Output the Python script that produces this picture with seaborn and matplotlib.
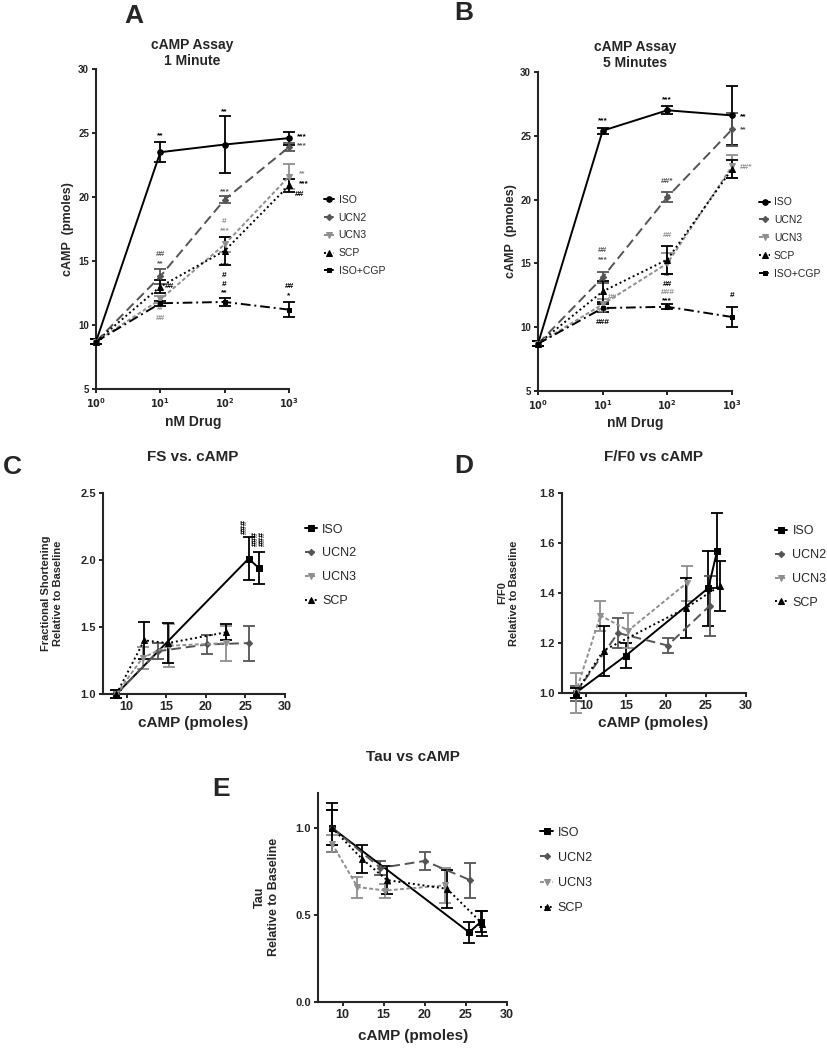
import matplotlib
matplotlib.use("Agg")
import matplotlib.pyplot as plt
from matplotlib.ticker import NullLocator
import seaborn as sns
import pandas as pd

W, H = 827, 1050

# -------------------------------
# Data: cAMP dose response (A: 1 min, B: 5 min)
# -------------------------------
dose_nm = [1, 10, 100, 1000]
dose_ticklabels = [r"$\mathbf{10^0}$", r"$\mathbf{10^1}$", r"$\mathbf{10^2}$", r"$\mathbf{10^3}$"]
series_ab = ["ISO", "UCN2", "UCN3", "SCP", "ISO+CGP"]

a_iso = [8.7, 23.5, 24.1, 24.6]
a_iso_err = [0.2, 0.8, 2.2, 0.5]
a_ucn2 = [8.7, 13.8, 19.8, 23.9]
a_ucn2_err = [0.2, 0.6, 0.3, 0.3]
a_ucn3 = [8.7, 12.0, 16.3, 21.6]
a_ucn3_err = [0.2, 0.3, 0.6, 1.0]
a_scp = [8.7, 13.0, 15.8, 20.9]
a_scp_err = [0.2, 0.5, 1.1, 0.5]
a_cgp = [8.7, 11.7, 11.8, 11.2]
a_cgp_err = [0.2, 0.2, 0.3, 0.6]

b_iso = [8.7, 25.4, 27.0, 26.6]
b_iso_err = [0.2, 0.25, 0.3, 2.3]
b_ucn2 = [8.7, 13.9, 20.2, 25.5]
b_ucn2_err = [0.2, 0.4, 0.4, 1.3]
b_ucn3 = [8.7, 11.8, 15.0, 22.6]
b_ucn3_err = [0.2, 0.4, 0.8, 0.9]
b_scp = [8.7, 12.8, 15.3, 22.4]
b_scp_err = [0.2, 0.8, 1.1, 0.7]
b_cgp = [8.7, 11.5, 11.6, 10.8]
b_cgp_err = [0.2, 0.3, 0.2, 0.8]

# significance marks (text, dose, cAMP, series)
a_marks = [("**", 10, 24.8, "ISO"), ("**", 100, 26.7, "ISO"),
           ("***", 1600, 24.7, "ISO"), ("***", 1600, 24.0, "UCN2"),
           ("***", 100, 20.4, "UCN2"), ("#", 100, 18.1, "UCN3"), ("***", 100, 17.4, "UCN3"),
           ("***", 100, 14.6, "SCP"), ("#", 100, 13.9, "SCP"), ("#", 100, 13.2, "ISO+CGP"),
           ("**", 100, 12.5, "ISO+CGP"), ("##", 10, 15.5, "UCN2"), ("**", 10, 14.8, "UCN2"),
           ("##", 13.8, 13.0, "SCP"), ("**", 10, 11.2, "UCN3"), ("##", 10, 10.5, "UCN3"),
           ("**", 1600, 21.8, "UCN3"), ("***", 1700, 21.0, "SCP"), ("##", 1450, 20.2, "SCP"),
           ("##", 1000, 13.0, "ISO+CGP"), ("*", 1000, 12.3, "ISO+CGP")]
b_marks = [("***", 10, 26.2, "ISO"), ("***", 100, 27.8, "ISO"),
           ("**", 1500, 26.5, "ISO"), ("**", 1500, 25.5, "UCN2"), ("##*", 1650, 22.5, "UCN3"),
           ("##*", 100, 21.4, "UCN2"), ("##", 100, 17.2, "UCN3"),
           ("**", 100, 14.0, "SCP"), ("##", 100, 13.35, "SCP"), ("###", 100, 12.7, "UCN3"),
           ("***", 100, 12.05, "ISO+CGP"), ("##", 10, 16.0, "UCN2"), ("***", 10, 15.3, "UCN2"),
           ("##", 14.3, 12.3, "UCN3"), ("***", 10, 11.1, "UCN3"), ("###", 10, 10.4, "SCP"),
           ("#", 1000, 12.5, "ISO+CGP")]

# -------------------------------
# Data: functional readouts vs cAMP (C, D, E)
# -------------------------------
series_cde = ["ISO", "UCN2", "UCN3", "SCP"]

c_iso_x = [8.7, 25.4, 26.7]
c_iso = [1.00, 2.01, 1.94]
c_iso_err = [0.03, 0.16, 0.12]
c_ucn2_x = [8.7, 14.0, 20.2, 25.4]
c_ucn2 = [1.00, 1.32, 1.37, 1.38]
c_ucn2_err = [0.03, 0.06, 0.07, 0.13]
c_ucn3_x = [8.7, 12.0, 15.3, 22.6]
c_ucn3 = [1.00, 1.27, 1.36, 1.38]
c_ucn3_err = [0.03, 0.08, 0.16, 0.13]
c_scp_x = [8.7, 12.2, 15.2, 22.5]
c_scp = [1.00, 1.40, 1.38, 1.46]
c_scp_err = [0.03, 0.14, 0.15, 0.06]
c_marks = [("###", 24.8, 2.25, "ISO"), ("###", 26.3, 2.16, "ISO"), ("###", 27.2, 2.16, "ISO")]

d_iso_x = [8.7, 15.0, 25.3, 26.4]
d_iso = [1.00, 1.15, 1.42, 1.57]
d_iso_err = [0.02, 0.05, 0.15, 0.15]
d_ucn2_x = [8.7, 14.0, 20.2, 25.5]
d_ucn2 = [1.00, 1.24, 1.19, 1.35]
d_ucn2_err = [0.03, 0.06, 0.03, 0.12]
d_ucn3_x = [8.7, 11.8, 15.3, 22.6]
d_ucn3 = [1.00, 1.31, 1.25, 1.44]
d_ucn3_err = [0.08, 0.06, 0.07, 0.07]
d_scp_x = [8.7, 12.2, 22.5, 26.8]
d_scp = [1.00, 1.17, 1.34, 1.43]
d_scp_err = [0.02, 0.10, 0.12, 0.10]

e_iso_x = [8.7, 25.4, 26.8]
e_iso = [1.00, 0.40, 0.46]
e_iso_err = [0.14, 0.06, 0.06]
e_ucn2_x = [8.7, 14.6, 20.0, 25.5]
e_ucn2 = [1.00, 0.77, 0.81, 0.70]
e_ucn2_err = [0.10, 0.04, 0.05, 0.10]
e_ucn3_x = [8.7, 11.8, 15.2, 22.5]
e_ucn3 = [0.91, 0.66, 0.64, 0.67]
e_ucn3_err = [0.05, 0.06, 0.04, 0.10]
e_scp_x = [8.7, 12.4, 15.4, 22.7, 27.0]
e_scp = [1.00, 0.82, 0.70, 0.65, 0.45]
e_scp_err = [0.10, 0.08, 0.08, 0.11, 0.07]

# -------------------------------
# Styles
# -------------------------------
STYLE = {
    "ISO": dict(color="black", linestyle="-", marker="o", markersize=4),
    "UCN2": dict(color="#555555", linestyle=(0, (5, 2.5)), marker="D", markersize=3.2),
    "UCN3": dict(color="#8f8f8f", linestyle=(0, (2, 1.2)), marker="v", markersize=4),
    "SCP": dict(color="black", linestyle=(0, (1, 1.5)), marker="^", markersize=4),
    "ISO+CGP": dict(color="black", linestyle=(0, (5, 2, 1, 2)), marker="s", markersize=3.2),
}

sns.set_style("ticks")
plt.rcParams["font.family"] = ["Liberation Sans", "DejaVu Sans"]
plt.rcParams["axes.linewidth"] = 1.5

fig = plt.figure(figsize=(W / 100, H / 100), dpi=100)


def add_axes(left, top, right, bottom):
    return fig.add_axes([left / W, 1 - bottom / H, (right - left) / W, (bottom - top) / H])


def ftext(px, py, s, **kw):
    fig.text(px / W, 1 - py / H, s, ha="center", va="center", **kw)


def draw(ax, x, y, err, name, marker=None):
    st = dict(STYLE[name])
    if marker:
        st["marker"] = marker
    df = pd.DataFrame({"x": x, "y": y})
    sns.lineplot(data=df, x="x", y="y", ax=ax, errorbar=None, label=name,
                 color=st["color"], linestyle=st["linestyle"], marker=st["marker"],
                 markersize=st["markersize"], markeredgecolor=st["color"],
                 linewidth=1.4, clip_on=False, zorder=3)
    ax.errorbar(x, y, yerr=err, fmt="none", ecolor=st["color"], elinewidth=1.3,
                capsize=4, capthick=1.3, clip_on=False, zorder=2)


def finish(ax, tick_size, legend_xy, legend_size, spacing):
    sns.despine(ax=ax)
    ax.set_xlabel("")
    ax.set_ylabel("")
    ax.tick_params(labelsize=tick_size, length=3, width=1.2, color="black", pad=2)
    for t in ax.get_xticklabels() + ax.get_yticklabels():
        t.set_fontweight("bold")
    ax.legend(loc="center left", bbox_to_anchor=legend_xy, frameon=False,
              fontsize=legend_size, handlelength=1.0, handletextpad=0.4,
              labelspacing=spacing, borderaxespad=0)


# -------------------------------
# Panels A and B
# -------------------------------
ab_sets = [
    (add_axes(96, 69, 289, 389), [a_iso, a_ucn2, a_ucn3, a_scp, a_cgp],
     [a_iso_err, a_ucn2_err, a_ucn3_err, a_scp_err, a_cgp_err], a_marks, (1.16, 0.48)),
    (add_axes(538, 72, 732, 391), [b_iso, b_ucn2, b_ucn3, b_scp, b_cgp],
     [b_iso_err, b_ucn2_err, b_ucn3_err, b_scp_err, b_cgp_err], b_marks, (1.12, 0.48)),
]
for ax, ys, errs, marks, leg in ab_sets:
    ax.set_xscale("log")
    for name, y, e in zip(series_ab, ys, errs):
        draw(ax, dose_nm, y, e, name)
    for txt, x, y, key in marks:
        ax.text(x, y, txt, ha="center", va="center", fontsize=6, fontweight="bold",
                color=STYLE[key]["color"])
    ax.set_xlim(1, 1000)
    ax.set_ylim(5, 30)
    ax.set_yticks([5, 10, 15, 20, 25, 30])
    ax.set_xticks(dose_nm)
    ax.set_xticklabels(dose_ticklabels)
    ax.xaxis.set_minor_locator(NullLocator())
    finish(ax, 7, leg, 7.5, 0.75)

# -------------------------------
# Panels C, D, E
# -------------------------------
ax_c = add_axes(103, 493, 285, 694)
ax_d = add_axes(562, 493, 746, 693)
ax_e = add_axes(318, 793, 507, 1002)

cde_sets = [
    (ax_c, [(c_iso_x, c_iso, c_iso_err), (c_ucn2_x, c_ucn2, c_ucn2_err),
            (c_ucn3_x, c_ucn3, c_ucn3_err), (c_scp_x, c_scp, c_scp_err)],
     (1.0, 2.5), [1.0, 1.5, 2.0, 2.5], (1.08, 0.64), 0.95),
    (ax_d, [(d_iso_x, d_iso, d_iso_err), (d_ucn2_x, d_ucn2, d_ucn2_err),
            (d_ucn3_x, d_ucn3, d_ucn3_err), (d_scp_x, d_scp, d_scp_err)],
     (1.0, 1.8), [1.0, 1.2, 1.4, 1.6, 1.8], (1.13, 0.63), 0.95),
    (ax_e, [(e_iso_x, e_iso, e_iso_err), (e_ucn2_x, e_ucn2, e_ucn2_err),
            (e_ucn3_x, e_ucn3, e_ucn3_err), (e_scp_x, e_scp, e_scp_err)],
     (0.0, 1.2), [0.0, 0.5, 1.0], (1.15, 0.63), 1.05),
]
for ax, groups, ylim, yticks, leg, spacing in cde_sets:
    for name, (x, y, e) in zip(series_cde, groups):
        draw(ax, x, y, e, name, marker="s" if name == "ISO" else None)
    ax.set_xlim(7, 30)
    ax.set_ylim(*ylim)
    ax.set_xticks([10, 15, 20, 25, 30])
    ax.set_yticks(yticks)
    finish(ax, 9, leg, 9, spacing)
    ax.tick_params(axis="y", labelsize=8)
    for t in ax.get_yticklabels():
        t.set_fontweight("bold")

for txt, x, y, key in c_marks:
    ax_c.text(x, y, txt, ha="center", va="center", fontsize=6.5, fontweight="bold",
              rotation=90, color=STYLE[key]["color"])

# -------------------------------
# Titles, labels, panel letters
# -------------------------------
ftext(192, 53, "cAMP Assay\n1 Minute", fontsize=10, fontweight="bold", linespacing=1.25)
ftext(635, 55, "cAMP Assay\n5 Minutes", fontsize=10, fontweight="bold", linespacing=1.25)
ftext(193, 457, "FS vs. cAMP", fontsize=11, fontweight="bold")
ftext(653, 457, "F/F0 vs cAMP", fontsize=11, fontweight="bold")
ftext(413, 757, "Tau vs cAMP", fontsize=11, fontweight="bold")

ftext(193, 422, "nM Drug", fontsize=10, fontweight="bold")
ftext(635, 423, "nM Drug", fontsize=10, fontweight="bold")
ftext(193, 723, "cAMP (pmoles)", fontsize=11, fontweight="bold")
ftext(653, 723, "cAMP (pmoles)", fontsize=11, fontweight="bold")
ftext(413, 1036, "cAMP (pmoles)", fontsize=11, fontweight="bold")

ftext(68, 229, "cAMP  (pmoles)", fontsize=9, fontweight="bold", rotation=90)
ftext(511, 231, "cAMP  (pmoles)", fontsize=9, fontweight="bold", rotation=90)
ftext(52, 593, "Fractional Shortening\nRelative to Baseline", fontsize=8,
      fontweight="bold", rotation=90)
ftext(508, 593, "F/F0\nRelative to Baseline", fontsize=8, fontweight="bold", rotation=90)
ftext(267, 897, "Tau\nRelative to Baseline", fontsize=9, fontweight="bold", rotation=90)

for letter, px, py in [("A", 134, 16), ("B", 464, 13), ("C", 12, 467), ("D", 464, 466), ("E", 221, 789)]:
    ftext(px, py, letter, fontsize=19, fontweight="bold")

fig.savefig("out.png", dpi=100)
